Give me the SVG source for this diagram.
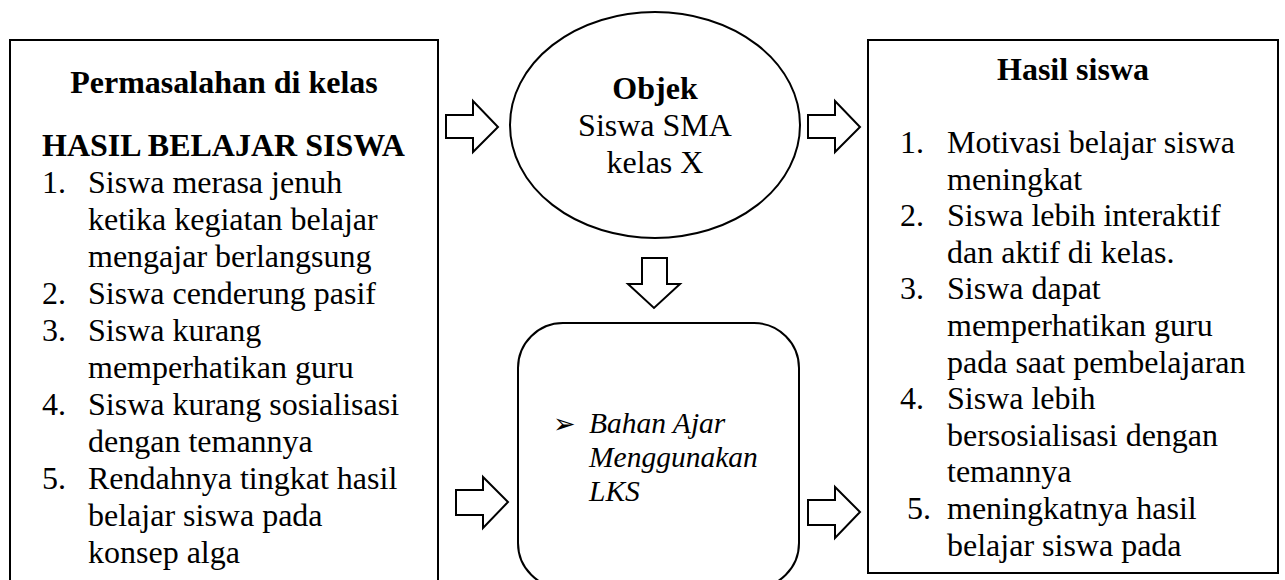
<svg xmlns="http://www.w3.org/2000/svg" width="1285" height="580" viewBox="0 0 1285 580">
<style>
.shape{fill:#fff;stroke:#000;stroke-width:2}
.t{font-family:"Liberation Serif","Times New Roman",serif;font-size:32px;fill:#000}
.b{font-weight:bold}
.c{text-anchor:middle}
.i{font-style:italic;font-size:29.5px}
.bul{font-family:"DejaVu Sans",sans-serif;font-size:27px;fill:#000}
</style>
<defs>
<clipPath id="clipR"><rect x="868" y="40" width="410" height="525"/></clipPath>
</defs>
<rect width="1285" height="580" fill="#fff"/>
<g id="problems">
<rect class="shape" x="10" y="40" width="428" height="560"/>
<text class="t b c" x="224" y="93">Permasalahan di kelas</text>
<text class="t b" x="42" y="156">HASIL BELAJAR SISWA</text>
<g class="t">
<text x="42" y="193">1.</text><text x="88" y="193">Siswa merasa jenuh</text>
<text x="88" y="230">ketika kegiatan belajar</text>
<text x="88" y="267">mengajar berlangsung</text>
<text x="42" y="304">2.</text><text x="88" y="304">Siswa cenderung pasif</text>
<text x="42" y="341">3.</text><text x="88" y="341">Siswa kurang</text>
<text x="88" y="378">memperhatikan guru</text>
<text x="42" y="415">4.</text><text x="88" y="415">Siswa kurang sosialisasi</text>
<text x="88" y="452">dengan temannya</text>
<text x="42" y="489">5.</text><text x="88" y="489">Rendahnya tingkat hasil</text>
<text x="88" y="526">belajar siswa pada</text>
<text x="88" y="563">konsep alga</text>
</g>
</g>
<g id="object">
<ellipse class="shape" cx="655" cy="125" rx="145" ry="113"/>
<text class="t b c" x="655" y="99">Objek</text>
<text class="t c" x="655" y="136">Siswa SMA</text>
<text class="t c" x="655" y="173">kelas X</text>
</g>
<g id="media">
<rect class="shape" x="518" y="323" width="281" height="265" rx="45" ry="45"/>
<text class="bul" x="553" y="433">➢</text>
<text class="t i" x="589" y="433">Bahan Ajar</text>
<text class="t i" x="589" y="467">Menggunakan</text>
<text class="t i" x="589" y="501">LKS</text>
</g>
<g id="results">
<rect class="shape" x="868" y="40" width="410" height="533"/>
<text class="t b c" x="1073" y="80">Hasil siswa</text>
<g class="t" clip-path="url(#clipR)">
<text x="900" y="153">1.</text><text x="947" y="153">Motivasi belajar siswa</text>
<text x="947" y="189.6">meningkat</text>
<text x="900" y="226.2">2.</text><text x="947" y="226.2">Siswa lebih interaktif</text>
<text x="947" y="262.8">dan aktif di kelas.</text>
<text x="900" y="299.4">3.</text><text x="947" y="299.4">Siswa dapat</text>
<text x="947" y="336">memperhatikan guru</text>
<text x="947" y="372.6">pada saat pembelajaran</text>
<text x="900" y="409.2">4.</text><text x="947" y="409.2">Siswa lebih</text>
<text x="947" y="445.8">bersosialisasi dengan</text>
<text x="947" y="482.4">temannya</text>
<text x="907" y="519">5.</text><text x="947" y="519">meningkatnya hasil</text>
<text x="947" y="555.6">belajar siswa pada</text>
</g>
</g>
<g id="connectors">
<polygon class="shape" points="446,115 473,115 473,101 498,127 473,152 473,138 446,138"/>
<polygon class="shape" points="808,115 835,115 835,101 860,127 835,152 835,138 808,138"/>
<polygon class="shape" points="642,258 667,258 667,284 680,284 654,308 628,284 642,284"/>
<polygon class="shape" points="456,490 483,490 483,477 508,502 483,528 483,515 456,515"/>
<polygon class="shape" points="808,500 835,500 835,487 860,512 835,538 835,525 808,525"/>
</g>
</svg>
